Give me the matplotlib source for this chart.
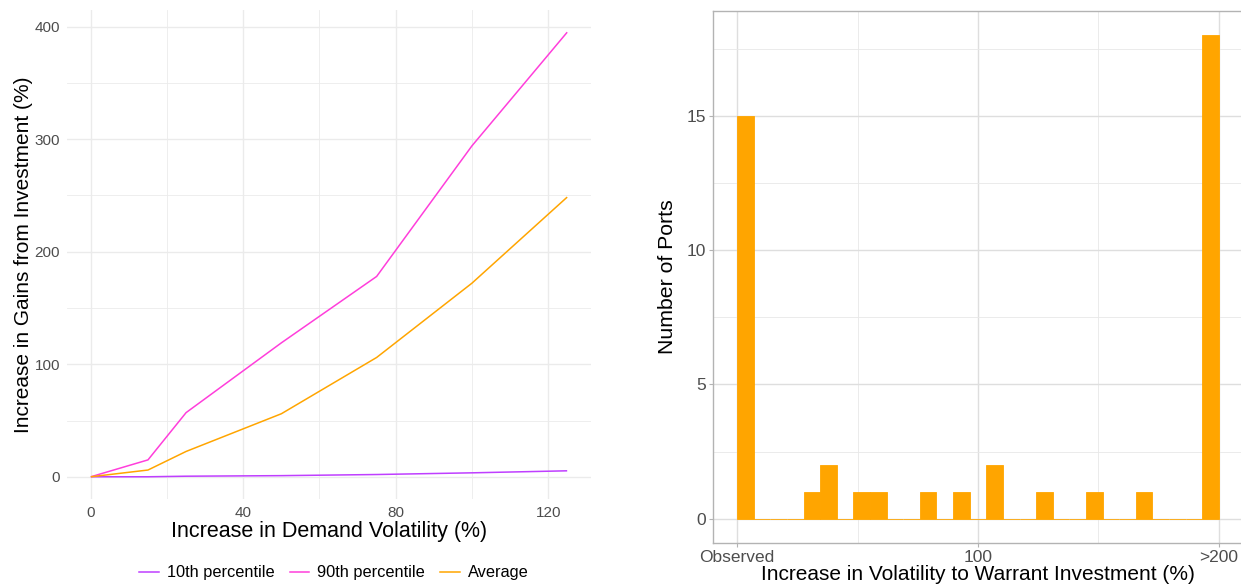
import numpy as np
import matplotlib
matplotlib.use("Agg")
import matplotlib.pyplot as plt
from matplotlib.lines import Line2D

plt.rcParams['font.family'] = ['Liberation Sans', 'DejaVu Sans']

# ---------------- data ----------------
volatility = [0, 15, 25, 50, 75, 100, 125]
p10 = [0, 0, 0.5, 1, 2, 3.5, 5.3]
p90 = [0, 15, 57, 119, 178, 294, 395]
average = [0, 6, 22.5, 56, 106, 172, 248.5]

series_names = ["10th percentile", "90th percentile", "Average"]
series_colors = ["#BF3EFF", "#FF3EDB", "#FFA500"]

hist_lo, hist_hi, n_bins = 0, 200, 29
hist_counts = [15, 0, 0, 0, 1, 2, 0, 1, 1, 0, 0, 1, 0, 1, 0,
               2, 0, 0, 1, 0, 0, 1, 0, 0, 1, 0, 0, 0, 18]
hist_ticks = [0, 100, 200]
hist_ticklabels = ["Observed", "100", ">200"]

# ---------------- figure ----------------
W, H = 1241, 586
fig = plt.figure(figsize=(W / 100, H / 100), dpi=100)


def px_axes(x0, y0, x1, y1):
    return fig.add_axes([x0 / W, 1 - y1 / H, (x1 - x0) / W, (y1 - y0) / H])


# ---------------- left panel ----------------
ax1 = px_axes(67, 10, 591, 499)
for vals, col in zip([p10, p90, average], series_colors):
    ax1.plot(volatility, vals, color=col, lw=1.1, solid_capstyle='butt')
ax1.set_xlim(-6.25, 131.25)
ax1.set_ylim(-19.75, 414.75)
ax1.set_xticks([0, 40, 80, 120])
ax1.set_xticks([20, 60, 100], minor=True)
ax1.set_yticks([0, 100, 200, 300, 400])
ax1.set_yticks([50, 150, 250, 350], minor=True)
ax1.grid(which='major', color='#EBEBEB', lw=1.0)
ax1.grid(which='minor', color='#EBEBEB', lw=0.6)
ax1.set_axisbelow(True)
for s in ax1.spines.values():
    s.set_visible(False)
ax1.tick_params(which='both', length=0, labelsize=11, labelcolor='#4D4D4D', pad=5)
ax1.set_xlabel("Increase in Demand Volatility (%)", fontsize=15.5, labelpad=1)
ax1.set_ylabel("Increase in Gains from Investment (%)", fontsize=15, labelpad=1)

handles = [Line2D([0], [0], color=c, lw=1.1) for c in series_colors]
fig.legend(handles, series_names, loc='center', ncol=3, frameon=False,
           bbox_to_anchor=(334 / W, 1 - 573 / H), fontsize=11.8,
           handlelength=1.2, handletextpad=0.5, columnspacing=0.9)

# ---------------- right panel ----------------
ax2 = px_axes(713, 11, 1243, 543)
edges = np.linspace(hist_lo, hist_hi, n_bins + 1)
centers = (edges[:-1] + edges[1:]) / 2
width = edges[1] - edges[0]
ax2.bar(centers, hist_counts, width=width, color='#FFA500',
        edgecolor='#FFA500', linewidth=0.6, zorder=3)
ax2.set_xlim(-10, 210)
ax2.set_ylim(-0.9, 18.9)
ax2.set_xticks(hist_ticks)
ax2.set_xticklabels(hist_ticklabels)
ax2.set_xticks([50, 150], minor=True)
ax2.set_yticks([0, 5, 10, 15])
ax2.set_yticks([2.5, 7.5, 12.5, 17.5], minor=True)
ax2.grid(which='major', color='#DEDEDE', lw=1.0)
ax2.grid(which='minor', color='#E8E8E8', lw=0.6)
ax2.set_axisbelow(True)
for name, s in ax2.spines.items():
    s.set_color('#B3B3B3')
    s.set_linewidth(1.0)
ax2.spines['right'].set_visible(False)
ax2.tick_params(which='major', length=3, color='#B3B3B3', labelsize=12.5,
                labelcolor='#4D4D4D', pad=2)
ax2.tick_params(which='minor', length=0)
ax2.set_xlabel("Increase in Volatility to Warrant Investment (%)", fontsize=15, labelpad=0)
ax2.set_ylabel("Number of Ports", fontsize=15.3, labelpad=7)

fig.savefig("out.png", dpi=100)
